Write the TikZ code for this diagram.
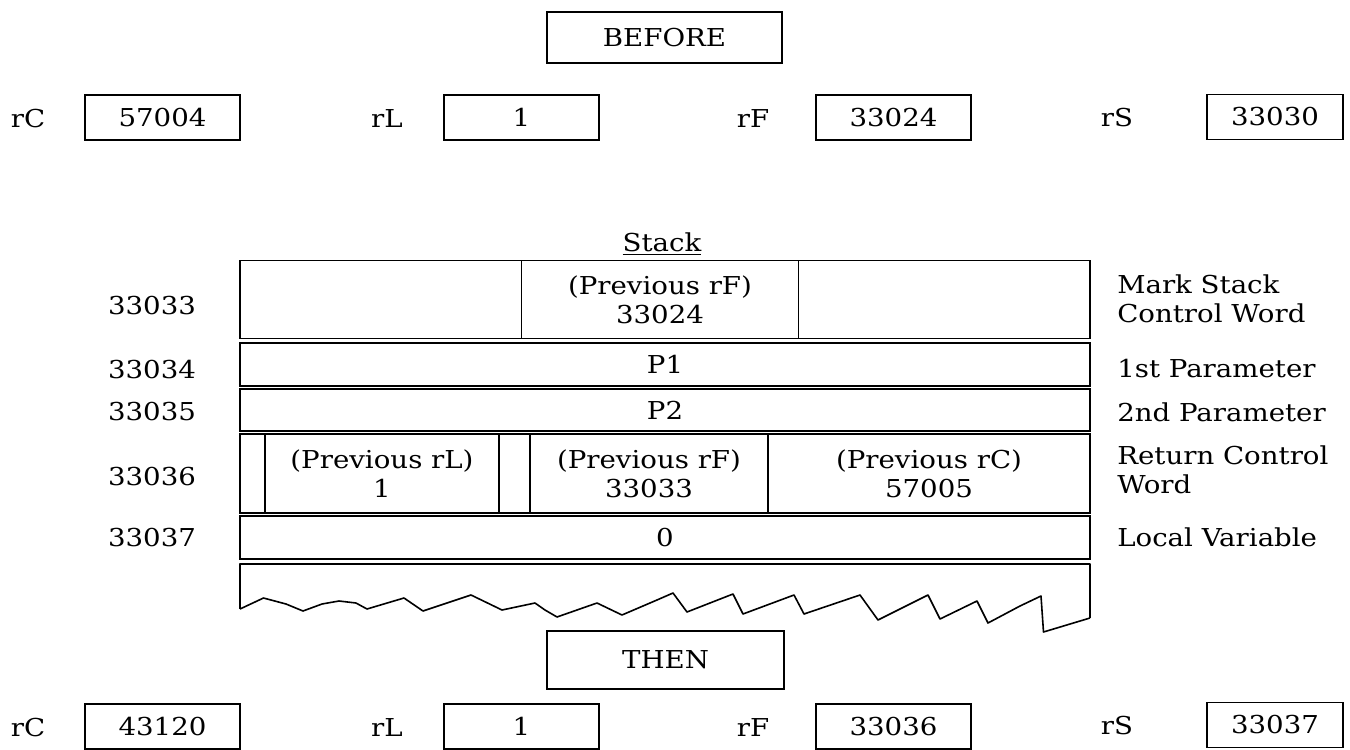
\documentclass[tikz,border=0pt]{standalone}
\usepackage{fontspec}
\setmainfont[FakeStretch=1.12]{DejaVu Serif}
\begin{document}
\begin{tikzpicture}[x=0.75pt,y=-0.75pt,
  txt/.style={font=\fontsize{18.5}{22}\selectfont},
  lbl/.style={txt, inner sep=0pt},
  regbox/.style={txt, draw, line width=1.2pt, minimum width=116.25pt, minimum height=33.75pt, inner sep=0pt},
  titlebox/.style={txt, draw, line width=1.2pt, minimum width=176.25pt, inner sep=0pt},
  cell/.style={txt, draw, line width=1.2pt, inner sep=0pt, align=center},
  side/.style={txt, anchor=west, inner sep=0pt, align=left},
  addr/.style={txt, inner sep=0pt},
  torn/.style={line width=1.2pt, line join=round}]
\useasboundingbox (0,0) rectangle (1350,750);

% BEFORE
\node[titlebox, minimum height=38.25pt] (before) at (664.5,37.5) {BEFORE};
\node[lbl] (rCa) at (28,119) {rC};
\node[regbox] (rCva) at (162.5,117.5) {57004};
\node[lbl] (rLa) at (387,119) {rL};
\node[regbox] (rLva) at (521.5,117.5) {1};
\node[lbl] (rFa) at (753,119) {rF};
\node[regbox] (rFva) at (893.5,117.5) {33024};
\node[lbl] (rSa) at (1117,118) {rS};
\node[regbox, minimum width=102pt] (rSva) at (1275,117) {33030};

% Stack title
\node[lbl] (stack) at (662,244) {\underline{Stack}};

% row 33033
\node[cell, minimum width=637.5pt, minimum height=58.5pt] (r1) at (665,299.5) {};
\node[cell, minimum width=207.75pt, minimum height=58.5pt] (r1m) at (660,299.5) {(Previous rF)\\33024};
% row 33034
\node[cell, minimum width=637.5pt, minimum height=32pt] (r2) at (665,364.5) {P1};
% row 33035
\node[cell, minimum width=637.5pt, minimum height=31.5pt] (r3) at (665,410) {P2};
% row 33036
\node[cell, minimum width=637.5pt, minimum height=59.25pt] (r4) at (665,473.5) {};
\node[cell, minimum width=175.5pt, minimum height=59.25pt] (r4a) at (382,473.5) {(Previous rL)\\1};
\node[cell, minimum width=178.5pt, minimum height=59.25pt] (r4b) at (649,473.5) {(Previous rF)\\33033};
\node[txt, inner sep=0pt, align=center] (r4c) at (929,473.5) {(Previous rC)\\57005};
% row 33037
\node[cell, minimum width=637.5pt, minimum height=32.25pt] (r5) at (665,537.5) {0};

% torn row
\coordinate (tl) at (240,564);
\coordinate (tr) at (1090,564);
\draw[torn] (240,609) -- (tl) -- (tr) -- (1090,618);
\draw[torn]
 (240,609) -- (263.5,598) -- (286,604) -- (303,611) -- (322,604) -- (339,601) -- (356,603) -- (367,609)
 -- (404,598) -- (423,611) -- (471,595) -- (502,610) -- (535,603) -- (545,610) -- (557,617)
 -- (597,603) -- (622,615) -- (657,600) -- (673,593) -- (687,612) -- (733,594) -- (743,614)
 -- (794,595) -- (804,614) -- (860,595) -- (878,620) -- (928,595) -- (940,619) -- (977,601)
 -- (988,623) -- (1020,606) -- (1041,596) -- (1043.5,632) -- (1090,618);

% addresses
\node[addr] (a1) at (152,306) {33033};
\node[addr] (a2) at (152,370) {33034};
\node[addr] (a3) at (152,412) {33035};
\node[addr] (a4) at (152,477) {33036};
\node[addr] (a5) at (152,538) {33037};

% side labels
\node[side] (s1) at (1117,299) {Mark Stack\\Control Word};
\node[side] (s2) at (1117,369) {1st Parameter};
\node[side] (s3) at (1117,412) {2nd Parameter};
\node[side] (s4) at (1117,470) {Return Control\\Word};
\node[side] (s5) at (1117,537) {Local Variable};

% THEN
\node[titlebox, minimum width=177.75pt, minimum height=43.5pt] (then) at (665.5,660) {THEN};
\node[lbl] (rCb) at (28,728) {rC};
\node[regbox] (rCvb) at (162.5,726.5) {43120};
\node[lbl] (rLb) at (387,728) {rL};
\node[regbox] (rLvb) at (521.5,726.5) {1};
\node[lbl] (rFb) at (753,728) {rF};
\node[regbox] (rFvb) at (893.5,726.5) {33036};
\node[lbl] (rSb) at (1117,726) {rS};
\node[regbox, minimum width=102pt] (rSvb) at (1275,725) {33037};
\end{tikzpicture}
\end{document}
